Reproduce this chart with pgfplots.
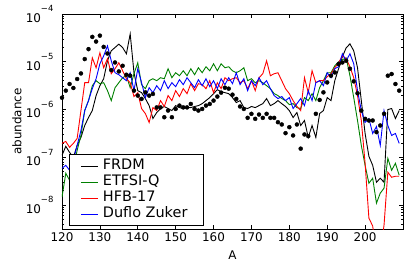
\documentclass[border=0pt]{standalone}
\usepackage{fontspec}
\setmainfont{DejaVu Sans}
\usepackage{pgfplots}
\usepackage{pgfplotstable}
\pgfplotsset{compat=1.18}
\definecolor{mgreen}{rgb}{0,0.5,0}
\pgfplotstableread{
A frdm etfsi hfb dz solar
120 1.10e-7 1.47e-8 1.96e-7 5.90e-8 1.77e-6
121 1.70e-7 4.64e-8 2.15e-7 6.81e-8 2.49e-6
122 1.27e-7 3.32e-8 1.62e-7 5.36e-8 3.43e-6
123 1.00e-7 5.90e-8 1.96e-7 8.66e-8 2.83e-6
124 1.78e-7 1.40e-7 2.49e-7 1.78e-7 4.36e-6
125 2.61e-7 2.87e-7 9.53e-7 3.65e-7 5.70e-6
126 4.64e-7 9.53e-7 3.65e-6 9.53e-7 1.14e-5
127 6.81e-7 1.54e-6 3.65e-6 1.54e-6 1.84e-5
128 9.53e-7 3.16e-6 1.21e-5 2.74e-6 3.32e-5
129 1.96e-6 4.02e-6 7.50e-6 4.42e-6 2.65e-5
130 3.16e-6 3.48e-6 1.54e-5 9.09e-6 3.53e-5
131 4.42e-6 3.65e-6 7.50e-6 1.33e-5 2.05e-5
132 1.05e-5 2.49e-6 1.16e-5 2.15e-5 1.49e-5
133 1.70e-5 1.54e-6 5.62e-6 1.05e-5 6.71e-6
134 1.99e-5 2.87e-6 7.15e-6 5.90e-6 9.67e-6
135 2.34e-5 3.65e-6 9.53e-6 5.36e-6 6.28e-6
136 1.99e-5 4.64e-6 6.49e-6 4.64e-6 8.25e-6
137 1.47e-5 5.11e-6 4.42e-6 4.02e-6 5.36e-6
138 3.83e-5 2.87e-6 3.65e-6 5.90e-6 5.11e-6
139 5.90e-6 5.62e-6 1.87e-6 2.49e-6 2.49e-6
140 2.49e-6 9.53e-6 2.26e-6 7.15e-6 1.96e-6
141 2.26e-6 3.32e-6 1.05e-6 3.65e-6 1.67e-6
142 1.70e-6 2.74e-6 8.25e-7 1.78e-6 2.29e-6
143 1.21e-6 4.02e-6 5.36e-7 2.87e-6 1.96e-6
144 6.49e-7 4.42e-6 1.10e-6 2.26e-6 2.12e-6
145 8.66e-7 4.02e-6 9.53e-7 3.16e-6 1.11e-6
146 1.05e-6 4.64e-6 1.54e-6 2.49e-6 1.11e-6
147 1.16e-6 4.42e-6 1.16e-6 4.02e-6 6.91e-7
148 1.05e-6 7.15e-6 1.96e-6 2.74e-6 9.53e-7
149 9.53e-7 4.64e-6 1.54e-6 3.65e-6 6.91e-7
150 1.21e-6 5.90e-6 2.49e-6 3.01e-6 1.03e-6
151 1.10e-6 5.11e-6 1.87e-6 4.22e-6 1.21e-6
152 1.05e-6 6.49e-6 2.74e-6 3.32e-6 1.11e-6
153 1.10e-6 5.11e-6 2.15e-6 4.64e-6 1.11e-6
154 1.10e-6 7.15e-6 3.48e-6 3.65e-6 1.31e-6
155 1.16e-6 5.36e-6 2.49e-6 2.87e-6 1.03e-6
156 1.21e-6 7.50e-6 3.48e-6 4.22e-6 9.53e-7
157 1.33e-6 5.90e-6 3.32e-6 3.16e-6 1.03e-6
158 1.54e-6 7.87e-6 2.74e-6 4.42e-6 1.21e-6
159 1.78e-6 6.49e-6 4.02e-6 3.01e-6 1.31e-6
160 2.15e-6 9.09e-6 2.26e-6 4.02e-6 1.54e-6
161 2.61e-6 6.49e-6 3.65e-6 2.74e-6 1.87e-6
162 2.37e-6 9.09e-6 2.74e-6 4.42e-6 2.26e-6
163 2.26e-6 7.50e-6 4.64e-6 3.32e-6 2.87e-6
164 2.15e-6 7.87e-6 4.02e-6 4.64e-6 2.74e-6
165 1.78e-6 6.49e-6 4.42e-6 3.48e-6 2.05e-6
166 1.40e-6 5.90e-6 4.64e-6 5.90e-6 1.67e-6
167 1.54e-6 6.49e-6 3.65e-6 3.32e-6 1.16e-6
168 1.10e-6 7.50e-6 4.02e-6 4.42e-6 1.03e-6
169 1.05e-6 4.02e-6 2.74e-6 2.49e-6 6.71e-7
170 1.16e-6 4.42e-6 4.02e-6 4.02e-6 8.14e-7
171 1.10e-6 3.65e-6 2.49e-6 3.16e-6 6.40e-7
172 1.21e-6 4.02e-6 4.64e-6 4.64e-6 7.87e-7
173 1.33e-6 3.65e-6 5.62e-6 3.32e-6 6.71e-7
174 1.70e-6 3.16e-6 1.05e-5 4.02e-6 8.14e-7
175 1.21e-6 2.74e-6 5.11e-6 2.74e-6 6.71e-7
176 1.33e-6 2.15e-6 5.62e-6 1.96e-6 6.71e-7
177 1.54e-6 1.96e-6 5.90e-6 1.70e-6 5.44e-7
178 1.33e-6 1.70e-6 4.02e-6 1.87e-6 4.87e-7
179 1.16e-6 1.54e-6 2.74e-6 1.54e-6 3.21e-7
180 9.53e-7 1.27e-6 2.15e-6 1.78e-6 4.28e-7
181 6.81e-7 1.33e-6 1.54e-6 1.05e-6 2.87e-7
182 8.66e-7 1.10e-6 1.16e-6 1.33e-6 4.87e-7
183 4.64e-7 1.05e-6 9.53e-7 1.70e-6 1.52e-7
184 5.90e-7 1.78e-6 4.64e-6 1.21e-6 3.01e-7
185 2.61e-7 1.54e-6 2.26e-6 2.49e-6 2.78e-7
186 4.64e-7 2.15e-6 6.49e-6 1.54e-6 nan
187 2.61e-7 1.54e-6 3.65e-6 3.65e-6 8.14e-7
188 8.25e-7 2.87e-6 4.02e-6 4.02e-6 1.59e-6
189 9.53e-7 4.02e-6 4.02e-6 3.16e-6 2.29e-6
190 1.78e-6 5.90e-6 4.87e-6 5.90e-6 3.70e-6
191 1.54e-6 5.90e-6 5.62e-6 4.64e-6 5.11e-6
192 4.02e-6 8.25e-6 7.50e-6 7.15e-6 5.98e-6
193 7.15e-6 1.00e-5 9.53e-6 7.87e-6 8.96e-6
194 1.27e-5 1.10e-5 1.33e-5 1.47e-5 9.67e-6
195 1.96e-5 1.21e-5 1.16e-5 1.05e-5 1.05e-5
196 2.37e-5 5.11e-6 7.87e-6 1.47e-5 7.15e-6
197 1.70e-5 1.78e-6 4.64e-6 9.09e-6 3.89e-6
198 7.50e-6 5.90e-7 1.96e-6 2.49e-6 2.19e-6
199 1.54e-6 1.78e-7 5.90e-7 9.53e-7 9.53e-7
200 3.16e-7 6.81e-8 7.50e-8 5.36e-7 6.40e-7
201 1.05e-7 2.87e-8 5.36e-9 6.49e-7 5.90e-7
202 6.81e-8 3.65e-8 3.65e-9 3.16e-7 5.90e-7
203 3.01e-8 1.10e-8 1e-9 4.42e-7 3.37e-7
204 3.65e-8 1.78e-8 1e-9 1.78e-7 4.64e-7
205 3.01e-8 2.26e-8 3.83e-9 9.53e-7 8.14e-7
206 1.00e-6 9.53e-8 4.87e-8 4.64e-7 5.11e-6
207 1.05e-6 5.36e-8 3.83e-8 2.87e-7 5.54e-6
208 6.49e-7 7.50e-8 4.02e-8 3.16e-7 3.43e-6
209 9.53e-7 4.22e-8 4.02e-8 1.96e-7 2.49e-6
}\data
\newcommand{\tl}[1]{10\raisebox{10.5bp}{\fontsize{8.5}{9}\selectfont −#1}}
\begin{document}
\begin{tikzpicture}
\path[use as bounding box] (-62bp,-48bp) rectangle (353bp,229bp);
\begin{axis}[
  at={(0,0)}, anchor=south west,
  scale only axis, width=341bp, height=215bp,
  xmin=120, xmax=210, ymode=log, ymin=3.1623e-9, ymax=1e-4,
  xtick={120,130,...,200},
  ytick={1e-8,1e-7,1e-6,1e-5,1e-4},
  yticklabels={\tl{8},\tl{7},\tl{6},\tl{5},\tl{4}},
  minor ytick={4e-9,5e-9,6e-9,7e-9,8e-9,9e-9,
    2e-8,3e-8,4e-8,5e-8,6e-8,7e-8,8e-8,9e-8,
    2e-7,3e-7,4e-7,5e-7,6e-7,7e-7,8e-7,9e-7,
    2e-6,3e-6,4e-6,5e-6,6e-6,7e-6,8e-6,9e-6,
    2e-5,3e-5,4e-5,5e-5,6e-5,7e-5,8e-5,9e-5},
  tick align=inside,
  major tick length=4bp, minor tick length=2bp,
  every tick/.style={black, line width=0.6bp},
  axis line style={line width=0.8bp},
  tick label style={font=\fontsize{12}{14}\selectfont},
  yticklabel style={xshift=-5bp},
  /pgf/number format/assume math mode=true,
  xlabel={A}, ylabel={abundance},
  label style={font=\fontsize{12}{14}\selectfont},
  xlabel style={at={(axis description cs:0.5,-0.121)}, anchor=center},
  ylabel style={at={(axis description cs:-0.132,0.5)}, anchor=center},
  legend style={at={(axis description cs:0.0205,0.014)}, anchor=south west,
    draw=black, line width=0.8bp, fill=white,
    font=\fontsize{14.5}{16.5}\selectfont,
    inner xsep=11bp, inner ysep=3.5bp, row sep=0bp,
    nodes={inner xsep=4.5bp, inner ysep=1.25bp, text height=10.5bp, text depth=3bp}},
  legend cell align=left,
  legend image code/.code={\draw[#1, line width=1bp] (0bp,0bp) -- (17bp,0bp);},
]
\addplot[black, line width=0.9bp] table[x=A,y=frdm]{\data};
\addlegendentry{FRDM}
\addplot[mgreen, line width=0.9bp] table[x=A,y=etfsi]{\data};
\addlegendentry{ETFSI-Q}
\addplot[red, line width=0.9bp] table[x=A,y=hfb]{\data};
\addlegendentry{HFB-17}
\addplot[blue, line width=0.9bp] table[x=A,y=dz]{\data};
\addlegendentry{Duflo Zuker}
\addplot[black, only marks, mark=*, mark size=2bp, forget plot] table[x=A,y=solar]{\data};
\end{axis}
\end{tikzpicture}
\end{document}
